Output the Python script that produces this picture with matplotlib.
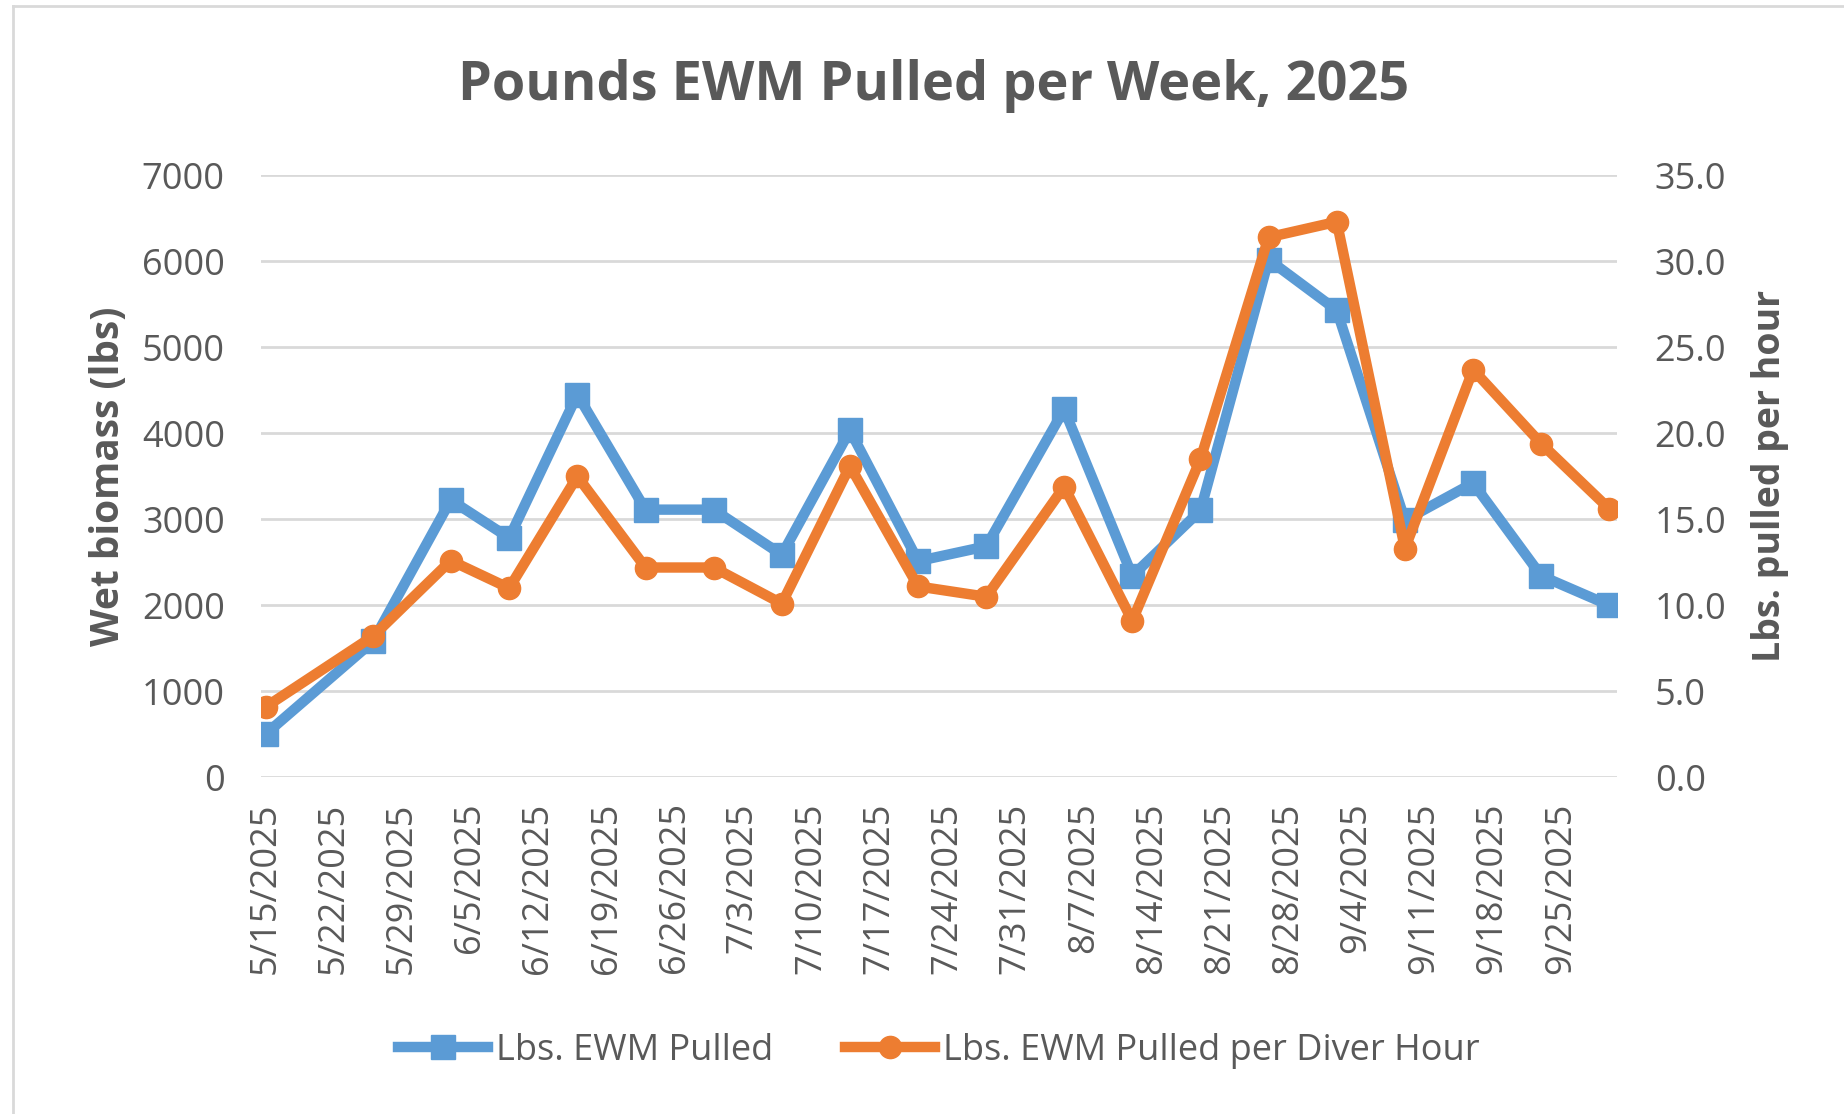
import datetime as dt
import matplotlib
matplotlib.use("Agg")
import matplotlib.pyplot as plt
import matplotlib.dates as mdates
from matplotlib.lines import Line2D

# sample dates
dates = ["2025-05-15", "2025-05-26", "2025-06-03", "2025-06-09", "2025-06-16",
         "2025-06-23", "2025-06-30", "2025-07-07", "2025-07-14", "2025-07-21",
         "2025-07-28", "2025-08-05", "2025-08-12", "2025-08-19", "2025-08-26",
         "2025-09-02", "2025-09-09", "2025-09-16", "2025-09-23", "2025-09-30"]

lbs_pulled = [505, 1580, 3225, 2784, 4451, 3113, 3113, 2588, 4034, 2515,
              2686, 4279, 2343, 3103, 6020, 5431, 2990, 3422, 2343, 2000]

lbs_per_hour = [4.1, 8.2, 12.6, 11.0, 17.5, 12.2, 12.2, 10.1, 18.1, 11.1,
                10.5, 16.9, 9.1, 18.5, 31.4, 32.3, 13.3, 23.7, 19.4, 15.6]

tick_start = "2025-05-15"
n_ticks = 20

title = "Pounds EWM Pulled per Week, 2025"
left_label = "Wet biomass (lbs)"
right_label = "Lbs. pulled per hour"
series_names = ["Lbs. EWM Pulled", "Lbs. EWM Pulled per Diver Hour"]

BLUE = "#5B9BD5"
ORANGE = "#ED7D31"
TEXT = "#595959"
GRID = "#D9D9D9"

plt.rcParams["font.family"] = ["Open Sans", "DejaVu Sans"]

x = [dt.datetime.strptime(d, "%Y-%m-%d") for d in dates]
t0 = dt.datetime.strptime(tick_start, "%Y-%m-%d")
ticks = [t0 + dt.timedelta(days=7 * i) for i in range(n_ticks)]

fig = plt.figure(figsize=(18.44, 11.14), dpi=100)
ax = fig.add_axes([0.1415, 0.3022, 0.7355, 0.5404])
ax2 = ax.twinx()

ax.plot(x, lbs_pulled, color=BLUE, lw=7.5, marker="s", ms=17,
        solid_joinstyle="round", zorder=3)
ax2.plot(x, lbs_per_hour, color=ORANGE, lw=7.5, marker="o", ms=16,
         solid_joinstyle="round", zorder=3)

ax.set_ylim(0, 7000)
ax.set_yticks(range(0, 7001, 1000))
ax2.set_ylim(0, 35)
ax2.set_yticks([i * 5.0 for i in range(8)])
ax2.set_yticklabels([f"{i * 5.0:.1f}" for i in range(8)])

ax.set_xlim(x[0] - dt.timedelta(days=0.5), x[-1] + dt.timedelta(days=0.8))
ax.set_xticks(ticks)
ax.xaxis.set_major_formatter(mdates.DateFormatter("%-m/%-d/%Y"))
for lab in ax.get_xticklabels():
    lab.set_rotation(90)

ax.grid(axis="y", color=GRID, lw=2)
ax.set_axisbelow(True)
for a in (ax, ax2):
    for s in a.spines.values():
        s.set_visible(False)
    a.tick_params(length=0, colors=TEXT, labelsize=26)
ax.tick_params(axis="y", pad=26)
ax.tick_params(axis="x", pad=18)
ax2.tick_params(axis="y", pad=27)

ax.set_ylabel(left_label, fontsize=28, fontweight="bold", color=TEXT, labelpad=10)
ax2.set_ylabel(right_label, fontsize=27, fontweight="bold", color=TEXT, labelpad=18)

fig.text(0.506, 0.923, title, ha="center", va="center", fontsize=39,
         fontweight="bold", color=TEXT)

handles = [Line2D([], [], color=BLUE, lw=7.5, marker="s", ms=17),
           Line2D([], [], color=ORANGE, lw=7.5, marker="o", ms=16)]
fig.legend(handles, series_names, loc="center", bbox_to_anchor=(0.509, 0.0566),
           ncol=2, frameon=False, fontsize=26, handlelength=2.5,
           handletextpad=0.2, columnspacing=2.0, labelcolor=TEXT)

# chart area border (left and top edges visible)
fig.add_artist(Line2D([13 / 1844, 13 / 1844], [0, 1 - 6 / 1114],
                      transform=fig.transFigure, color="#D9D9D9", lw=2))
fig.add_artist(Line2D([13 / 1844, 1], [1 - 6 / 1114, 1 - 6 / 1114],
                      transform=fig.transFigure, color="#D9D9D9", lw=2))

fig.savefig("out.png", dpi=100)
